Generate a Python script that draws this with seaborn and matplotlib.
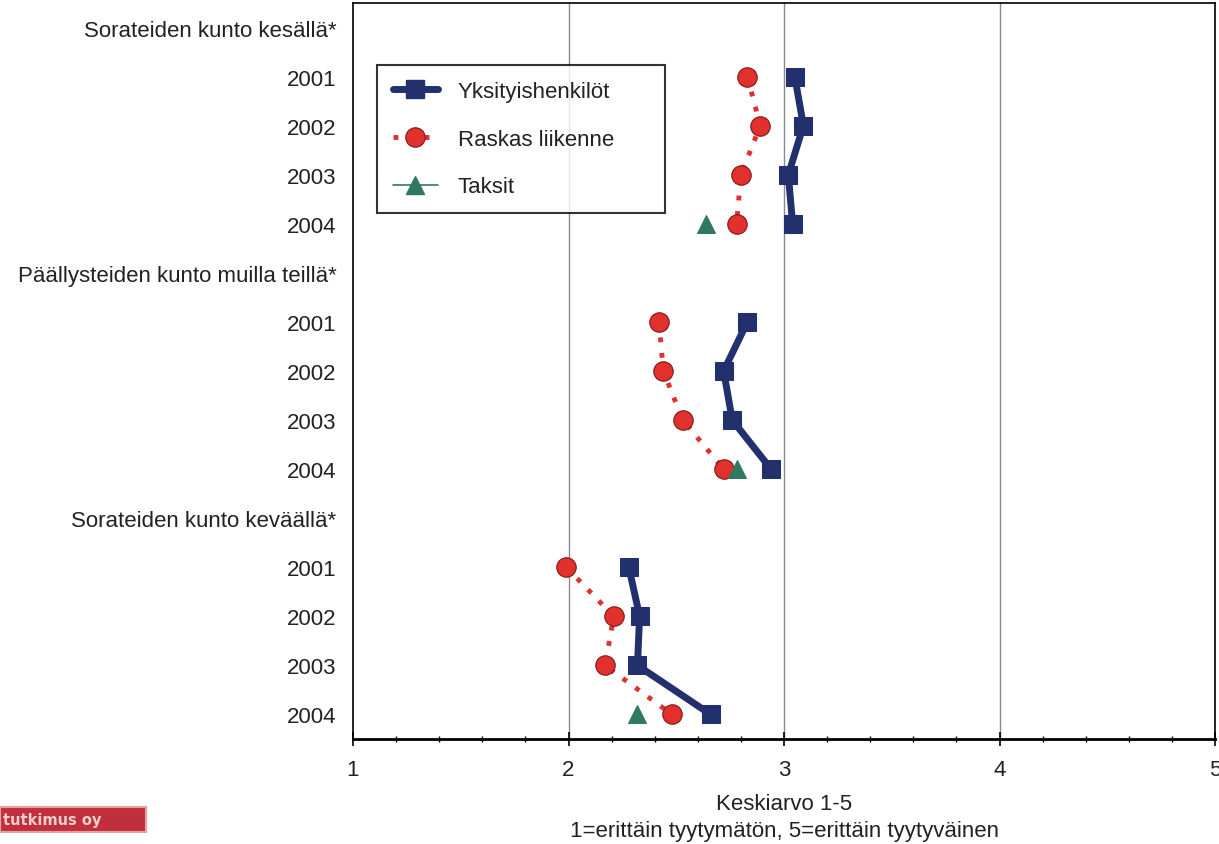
import numpy as np
import pandas as pd
import seaborn as sns
import matplotlib
matplotlib.use("Agg")
import matplotlib.pyplot as plt
from matplotlib.lines import Line2D
from matplotlib.patches import Rectangle
from matplotlib.ticker import MultipleLocator

# ---- data ----
row_labels = ["Sorateiden kunto kesällä*", "2001", "2002", "2003", "2004",
              "Päällysteiden kunto muilla teillä*", "2001", "2002", "2003", "2004",
              "Sorateiden kunto keväällä*", "2001", "2002", "2003", "2004"]
sections = ["Sorateiden kunto kesällä*", "Päällysteiden kunto muilla teillä*",
            "Sorateiden kunto keväällä*"]
years = ["2001", "2002", "2003", "2004"]

yksityiset = [[3.05, 3.09, 3.02, 3.04],
              [2.83, 2.72, 2.76, 2.94],
              [2.28, 2.33, 2.32, 2.66]]
raskas = [[2.83, 2.89, 2.80, 2.78],
          [2.42, 2.44, 2.53, 2.72],
          [1.99, 2.21, 2.17, 2.48]]
taksit = [[None, None, None, 2.64],
          [None, None, None, 2.78],
          [None, None, None, 2.32]]

series_names = ["Yksityishenkilöt", "Raskas liikenne", "Taksit"]
x_ticks = [1, 2, 3, 4, 5]
x_label = "Keskiarvo 1-5\n1=erittäin tyytymätön, 5=erittäin tyytyväinen"

# ---- build long table ----
recs = []
for name, vals in zip(series_names, [yksityiset, raskas, taksit]):
    for si, sec in enumerate(sections):
        for yi, yr in enumerate(years):
            v = vals[si][yi]
            if v is None:
                continue
            pos = si * 5 + 1 + yi
            recs.append(dict(series=name, section=sec, pos=pos, value=v))
df = pd.DataFrame(recs)

sns.set_theme(style="white")
plt.rcParams['font.family'] = ['Liberation Sans', 'DejaVu Sans']

FS = 16

fig = plt.figure(figsize=(12.19, 8.45), dpi=100)
ax = fig.add_axes([353 / 1219, 1 - 740 / 845, (1215 - 353) / 1219, (740 - 4) / 845])

navy = "#22306e"
red = "#e2302c"
green = "#2f7a5c"

styles = {
    "Yksityishenkilöt": dict(color=navy, marker="s", markersize=13, linewidth=5,
                              linestyle="-", markeredgecolor=navy),
    "Raskas liikenne": dict(color=red, marker="o", markersize=14, linewidth=3.5,
                            linestyle=(0, (1, 2.2)), markeredgecolor="#7a1a1a",
                            markeredgewidth=0.8),
    "Taksit": dict(color=green, marker="^", markersize=13, linewidth=1.2,
                   linestyle="-", markeredgecolor=green),
}

for name in series_names:
    sub = df[df.series == name]
    sns.lineplot(data=sub, x="value", y="pos", units="section", estimator=None,
                 orient="y", sort=False, ax=ax, legend=False, **styles[name])

ax.set_xlim(1, 5)
ax.set_ylim(14.5, -0.5)
ax.set_yticks(range(len(row_labels)))
ax.set_yticklabels(row_labels, fontsize=FS, color="#222222")
ax.set_xticks(x_ticks)
ax.set_xticklabels([str(t) for t in x_ticks], fontsize=FS, color="#222222")
ax.xaxis.set_minor_locator(MultipleLocator(0.2))
ax.tick_params(axis="x", which="major", direction="inout", length=10, width=1.2,
               bottom=True, pad=9.6, color="black")
ax.tick_params(axis="x", which="minor", direction="inout", length=5, width=1,
               bottom=True, color="black")
ax.tick_params(axis="y", left=False, length=0, pad=12)
ax.set_ylabel("")
ax.set_xlabel(x_label, fontsize=FS, labelpad=9, linespacing=1.42, color="#222222")

for x in [2, 3, 4]:
    ax.axvline(x, color="#8a8a8a", linewidth=1, zorder=0)

for sp in ["top", "right", "left"]:
    ax.spines[sp].set_color("black")
    ax.spines[sp].set_linewidth(1.2)
ax.spines["bottom"].set_color("black")
ax.spines["bottom"].set_linewidth(2)

handles = [Line2D([], [], **styles[n]) for n in series_names]
leg_w = (665 - 377) / 862
leg_h = (213 - 66) / 736
leg_top = 1 - (66 - 4) / 736
leg = ax.legend(handles, series_names, loc="upper left",
                bbox_to_anchor=(0.028, leg_top - leg_h, leg_w, leg_h), mode="expand",
                fontsize=FS, frameon=True,
                fancybox=False, edgecolor="black", handlelength=2.0,
                labelspacing=1.2, borderpad=0.72, handletextpad=0.9,
                borderaxespad=0)
leg.get_frame().set_linewidth(1.5)
for t in leg.get_texts():
    t.set_color("#222222")

# logo block at bottom-left
fig.patches.append(Rectangle((0, 1 - 833 / 845), 146 / 1219, 25 / 845,
                             transform=fig.transFigure, facecolor="#c0303c",
                             edgecolor="#e8a0a0", linewidth=1.5, zorder=5))
fig.text(3 / 1219, 1 - 821 / 845, "tutkimus oy", color="#f6d0d0", fontsize=10.5,
         fontweight="bold", va="center", ha="left", zorder=6,
         family=["DejaVu Sans"])

fig.savefig("out.png", dpi=100)
